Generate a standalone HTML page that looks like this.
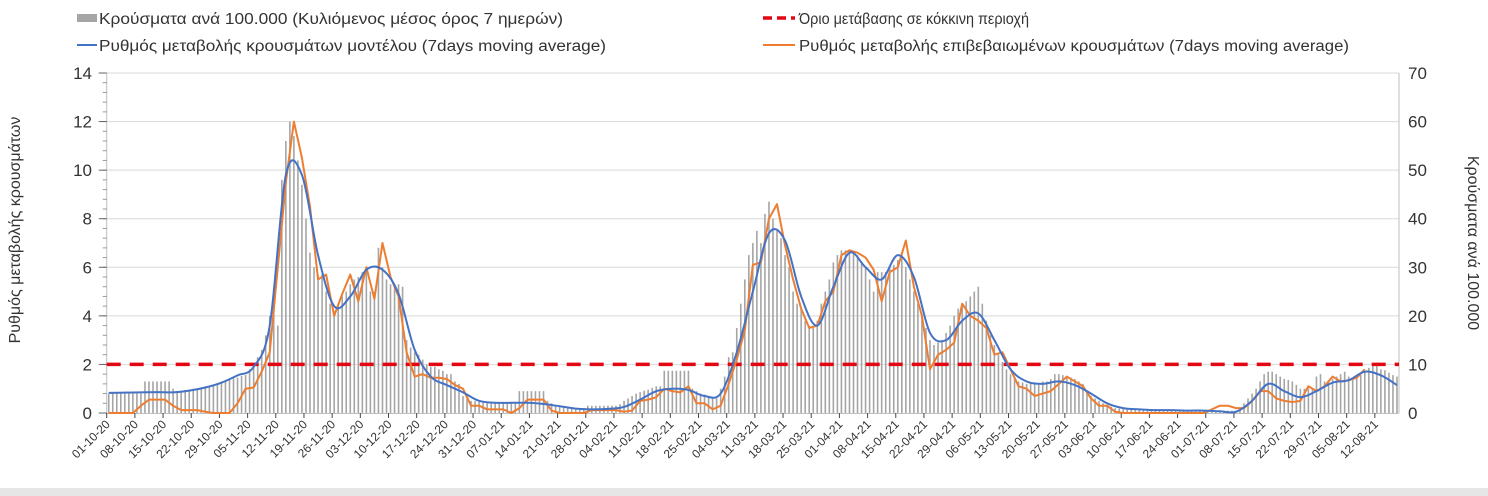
<!DOCTYPE html>
<html><head><meta charset="utf-8">
<style>
html,body{margin:0;padding:0;background:#fff;}
svg{display:block;font-family:"Liberation Sans",sans-serif;}
</style></head>
<body>
<svg id="chart" width="1488" height="496" viewBox="0 0 1488 496" xmlns="http://www.w3.org/2000/svg">
<rect x="0" y="0" width="1488" height="496" fill="#fff"/>
<rect x="0" y="488" width="1488" height="8" fill="#e6e6e6"/>
<g id="grid"></g>
<g id="bars"></g>
<g id="axes"></g>
<g id="lines"></g>
<g>
  <g>
    <rect x="77" y="14" width="20" height="8" fill="#a5a5a5"/>
    <text x="99" y="24" font-size="15.5" fill="#333" textLength="464" lengthAdjust="spacingAndGlyphs">Κρούσματα ανά 100.000 (Κυλιόμενος μέσος όρος 7 ημερών)</text>
  </g>
  <g>
    <line x1="763" y1="18" x2="795" y2="18" stroke="#e30613" stroke-width="3.5" stroke-dasharray="9,5"/>
    <text x="799" y="24" font-size="15.5" fill="#333" textLength="230" lengthAdjust="spacingAndGlyphs">Όριο μετάβασης σε κόκκινη περιοχή</text>
  </g>
  <g>
    <line x1="77" y1="45" x2="97" y2="45" stroke="#4472c4" stroke-width="2"/>
    <text x="99" y="51" font-size="15.5" fill="#333" textLength="507" lengthAdjust="spacingAndGlyphs">Ρυθμός μεταβολής κρουσμάτων μοντέλου (7days moving average)</text>
  </g>
  <g>
    <line x1="763" y1="45" x2="795" y2="45" stroke="#ed7d31" stroke-width="2"/>
    <text x="799" y="51" font-size="15.5" fill="#333" textLength="550" lengthAdjust="spacingAndGlyphs">Ρυθμός μεταβολής επιβεβαιωμένων κρουσμάτων (7days moving average)</text>
  </g>
</g>
<text transform="translate(20,230) rotate(-90)" text-anchor="middle" font-size="16" fill="#333">Ρυθμός μεταβολής κρουσμάτων</text>
<text transform="translate(1468,243) rotate(90)" text-anchor="middle" font-size="16" fill="#333">Κρούσματα ανά 100.000</text>
</svg>
<script>
const leftTicks = [0,2,4,6,8,10,12,14];
const rightTicks = [0,10,20,30,40,50,60,70];
const threshold = 2;
const dateLabels = ["01-10-20","08-10-20","15-10-20","22-10-20","29-10-20","05-11-20","12-11-20","19-11-20","26-11-20","03-12-20","10-12-20","17-12-20","24-12-20","31-12-20","07-01-21","14-01-21","21-01-21","28-01-21","04-02-21","11-02-21","18-02-21","25-02-21","04-03-21","11-03-21","18-03-21","25-03-21","01-04-21","08-04-21","15-04-21","22-04-21","29-04-21","06-05-21","13-05-21","20-05-21","27-05-21","03-06-21","10-06-21","17-06-21","24-06-21","01-07-21","08-07-21","15-07-21","22-07-21","29-07-21","05-08-21","12-08-21"];
// daily cases per 100k (right axis), one value per day
const casesPer100k = [
4,4,4,4,4,4,4,
4,4,6.5,6.5,6.5,6.5,6.5,
6.5,6.5,5,4.5,4.5,4.7,4.8,
5,5,5.3,5.5,5.6,5.8,6,
6.3,6.6,6.8,7.1,7.3,7.6,7.8,
9,10,11.5,13,16,20,25,
18,48,56,60,57,52,47,
40,33,30,28.5,28.5,25,22.5,
21,22.5,24,25,26.5,27.5,28,
29,29.5,25,25,34,30,27.5,
26.5,26,26.5,26,15,13.5,12.5,
12,11,10,9.5,9.5,9,8.7,
8,8,6.5,6,3.5,3,2.5,
2.5,2.3,2.3,2.1,2,2,2,
2,2,2,2,4.5,4.5,4.5,
4.5,4.5,4.5,4.5,2.5,2,1.5,
1.2,1.1,1,1,1,1,1,
1.5,1.5,1.5,1.5,1.5,1.5,1.5,
1.5,1.8,2.5,3,3.5,4,4.3,
4.6,4.8,5.2,5.5,5.5,8.7,8.7,
8.7,8.7,8.7,8.7,8.7,5,4.5,
4,3.8,3.5,3.2,3,5,7.5,
11.5,12.5,17.5,22.5,27.5,32.5,35,
37.5,35,41,43.5,40,37.5,36,
32.5,30,25,22.5,21.5,19,18,
17.5,19,22.5,25,27.5,31,32.5,
33.5,33.5,33.5,33,32.5,31,30,
27.5,25,29,29,29,30,30.5,
31.5,33,30,27.5,25,22.5,20,
17.5,15,14,14.5,15,16.5,18,
20,21.5,22.5,23,24,25,26,
22.5,19,16,14,12,10.5,9,
8,7,6.5,6.3,6,6.3,6.3,
6,6.5,6.5,7,8,8,7.8,
7.5,7.3,7,6.5,6,4.5,3.5,
3,2.5,2,1.5,1.3,1,0.9,
0.8,0.8,0.8,0.8,0.8,0.8,0.8,
0.8,0.8,0.7,0.7,0.7,0.7,0.7,
0.7,0.6,0.6,0.6,0.6,0.5,0.5,
0.5,0.5,0.5,0.5,0.5,0.5,0.5,
0.5,1,2,3,4,5,6.5,
8,8.5,8.5,8,7.5,7,6.8,
6.5,5.8,5,5,5,5,7.5,
8,6.5,6.8,7,7.5,8,8.5,
7.5,7.3,7.5,7.8,8.5,9.3,10,
10,9,8.8,8.3,7.8,7.5];
// model rate (left axis), one value every 4 days
const modelStep = 4;
const modelRate = [0.83,0.84,0.85,0.86,0.85,0.92,1.05,1.25,1.55,1.9,3.6,9.8,9.8,6.5,4.4,4.8,5.9,5.9,4.9,2.6,1.5,1.15,0.85,0.5,0.42,0.42,0.42,0.37,0.28,0.18,0.15,0.17,0.25,0.55,0.9,1.0,0.95,0.7,0.8,2.5,5.0,7.4,7.1,4.8,3.6,5.2,6.6,6.0,5.5,6.5,5.6,3.3,3.0,3.8,4.1,3.0,1.8,1.3,1.2,1.3,1.15,0.8,0.4,0.2,0.15,0.12,0.12,0.1,0.1,0.07,0.05,0.5,1.2,0.9,0.65,0.9,1.25,1.35,1.7,1.55,1.15];
// confirmed rate (left axis), one value every 2 days
const confStep = 2;
const confirmedRate = [0,0,0,0,0.3,0.55,0.55,0.55,0.3,0.12,0.12,0.12,0.05,0,0,0,0.4,1.0,1.05,1.7,2.5,6.0,9.5,12.0,10.5,8.5,5.5,5.7,4.0,4.9,5.7,4.6,6.0,4.7,7.0,5.6,4.8,2.5,1.5,1.6,1.45,1.45,1.4,1.15,1.0,0.3,0.3,0.15,0.15,0.15,0,0.2,0.55,0.55,0.55,0.1,0,0,0,0,0.12,0.12,0.12,0.12,0.05,0.1,0.5,0.55,0.65,1.0,0.9,0.85,1.1,0.4,0.4,0.15,0.3,1.2,2.2,3.4,6.1,6.2,8.0,8.6,6.9,5.5,4.3,3.5,3.6,4.6,5.0,6.5,6.7,6.6,6.4,5.9,4.6,5.8,6.0,7.1,5.2,4.0,1.8,2.4,2.6,2.9,4.5,4.0,3.8,3.5,2.4,2.5,1.8,1.1,1.0,0.7,0.8,0.9,1.2,1.5,1.3,1.1,0.6,0.3,0.3,0.05,0,0,0,0,0,0,0,0,0,0,0,0.15,0.3,0.3,0.2,0.2,0.5,0.9,0.9,0.6,0.5,0.45,0.5,1.1,0.9,1.1,1.5,1.3,1.35,1.45,1.8];

const NS = "http://www.w3.org/2000/svg";
const X0 = 106.7, X1 = 1399, Y0 = 413, Y1 = 73;
const nDays = casesPer100k.length;
const dayW = (X1 - X0) / nDays;
const xDay = d => X0 + d * dayW;
const yL = v => Y0 - v / 14 * (Y0 - Y1);
const yR = v => Y0 - v / 70 * (Y0 - Y1);
function mk(tag, attrs, parent) { const e = document.createElementNS(NS, tag); for (const k in attrs) e.setAttribute(k, attrs[k]); parent.appendChild(e); return e; }

const grid = document.getElementById('grid');
leftTicks.forEach(t => {
  if (t === 0) return;
  const gl = mk('line', {x1: X0, x2: X1, y1: yL(t), y2: yL(t), stroke: '#d9d9d9', 'stroke-width': 1}, grid);
  
  
});

const bars = document.getElementById('bars');
casesPer100k.forEach((v, d) => {
  const b = mk('rect', {x: xDay(d) + dayW / 2 - 0.8, y: yR(v), width: 1.6, height: Y0 - yR(v), fill: '#a5a5a5'}, bars);
  
  
});

const axes = document.getElementById('axes');
mk('line', {x1: X0, x2: X0, y1: Y1, y2: Y0, stroke: '#bfbfbf'}, axes);
mk('line', {x1: X1, x2: X1, y1: Y1, y2: Y0, stroke: '#bfbfbf'}, axes);
mk('line', {x1: X0, x2: X1, y1: Y0 + 0.5, y2: Y0 + 0.5, stroke: '#bfbfbf'}, axes);
for (let v = 0; v <= 14.001; v += 0.4) {
  mk('line', {x1: X0 - 4, x2: X0, y1: yL(v), y2: yL(v), stroke: '#999'}, axes);
}
leftTicks.forEach(t => {
  mk('line', {x1: X0 - 8, x2: X0, y1: yL(t), y2: yL(t), stroke: '#666'}, axes);
  const tx = mk('text', {x: 92, y: yL(t) + 6, 'text-anchor': 'end', 'font-size': 17, fill: '#333'}, axes);
  tx.textContent = t;
  
  
});
rightTicks.forEach(t => {
  const tx = mk('text', {x: 1408, y: yR(t) + 6, 'font-size': 17, fill: '#333'}, axes);
  tx.textContent = t;
  
  
});
dateLabels.forEach((lab, i) => {
  const x = xDay(i * 7);
  mk('line', {x1: x, x2: x, y1: Y0, y2: Y0 + 5, stroke: '#444'}, axes);
  const tx = mk('text', {transform: `translate(${x + 4},${Y0 + 12}) rotate(-45)`, 'text-anchor': 'end', 'font-size': 12, fill: '#333'}, axes);
  tx.textContent = lab;
  
  
});

const lines = document.getElementById('lines');
const th = mk('line', {x1: X0, x2: X1, y1: yL(threshold), y2: yL(threshold), stroke: '#e30613', 'stroke-width': 3.5, 'stroke-dasharray': '14,9'}, lines);



function smoothPath(pts) {
  let d = `M${pts[0][0]},${pts[0][1]}`;
  for (let i = 0; i < pts.length - 1; i++) {
    const p0 = pts[i - 1] || pts[i], p1 = pts[i], p2 = pts[i + 1], p3 = pts[i + 2] || p2;
    const c1 = [p1[0] + (p2[0] - p0[0]) / 6, p1[1] + (p2[1] - p0[1]) / 6];
    const c2 = [p2[0] - (p3[0] - p1[0]) / 6, p2[1] - (p3[1] - p1[1]) / 6];
    d += ` C${c1[0]},${c1[1]} ${c2[0]},${c2[1]} ${p2[0]},${p2[1]}`;
  }
  return d;
}
const confPts = confirmedRate.map((v, i) => [xDay(i * confStep) + dayW / 2, yL(v)]);
const op = mk('polyline', {points: confPts.map(p => p.join(',')).join(' '), fill: 'none', stroke: '#ed7d31', 'stroke-width': 2, 'stroke-linejoin': 'round'}, lines);


const modelPts = modelRate.map((v, i) => [xDay(i * modelStep) + dayW / 2, yL(v)]);
const bp = mk('path', {d: smoothPath(modelPts), fill: 'none', stroke: '#4472c4', 'stroke-width': 2}, lines);


</script>
</body></html>
